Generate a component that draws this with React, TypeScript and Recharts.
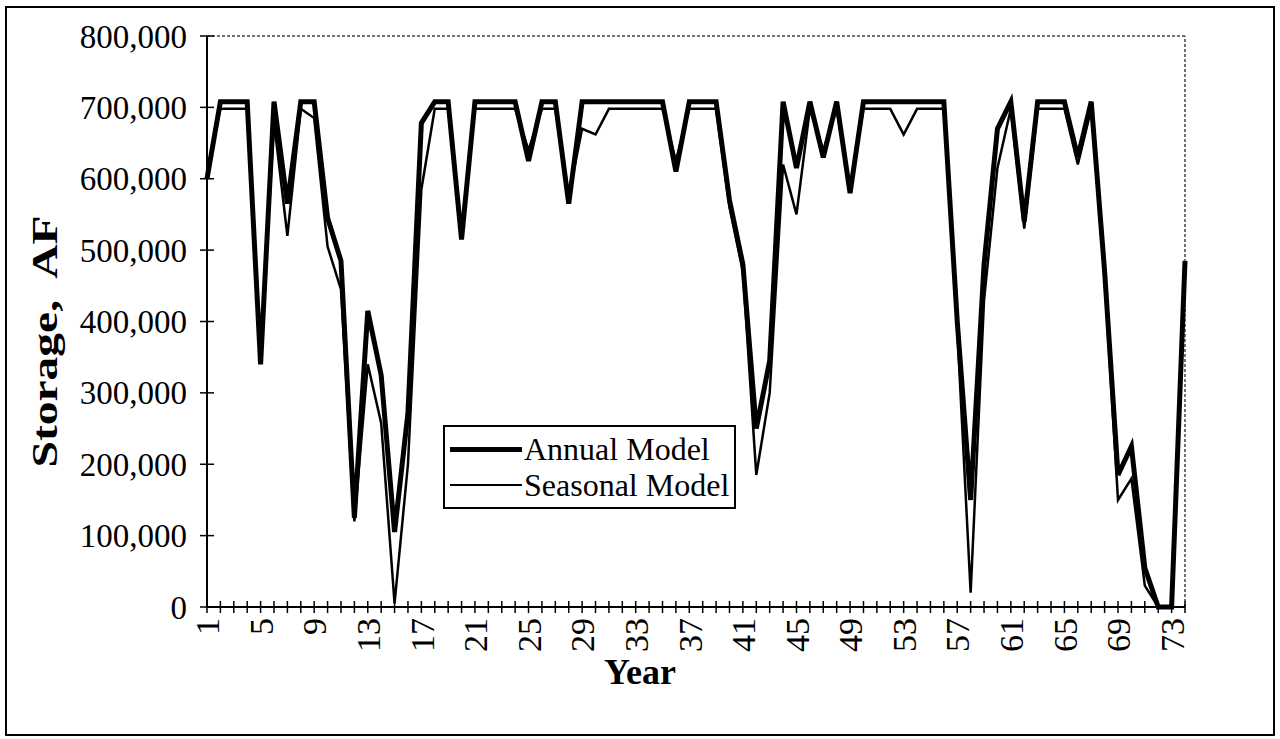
import React from "react";
import { LineChart, Line, XAxis, YAxis, Legend, ReferenceLine } from "recharts";

const FONT = '"Liberation Serif", "Times New Roman", serif';

const years = [
  1, 2, 3, 4, 5, 6, 7, 8, 9, 10, 11, 12, 13, 14, 15, 16, 17, 18, 19, 20, 21, 22, 23, 24, 25,
  26, 27, 28, 29, 30, 31, 32, 33, 34, 35, 36, 37, 38, 39, 40, 41, 42, 43, 44, 45, 46, 47, 48,
  49, 50, 51, 52, 53, 54, 55, 56, 57, 58, 59, 60, 61, 62, 63, 64, 65, 66, 67, 68, 69, 70, 71,
  72, 73, 74,
];

// storage, thousand AF
const annual = [
  600, 708, 708, 708, 340, 708, 565, 708, 708, 545, 485, 125, 415, 325, 105, 272, 678, 708, 708,
  515, 708, 708, 708, 708, 625, 708, 708, 565, 708, 708, 708, 708, 708, 708, 708, 610, 708, 708,
  708, 570, 480, 250, 345, 708, 615, 708, 630, 708, 580, 708, 708, 708, 708, 708, 708, 708, 400,
  150, 480, 670, 708, 540, 708, 708, 708, 630, 708, 470, 185, 225, 55, 0, 0, 485,
];

const seasonal = [
  610, 698, 698, 698, 350, 680, 520, 698, 685, 505, 445, 120, 340, 258, 5, 200, 585, 698, 698,
  530, 698, 698, 698, 698, 640, 698, 698, 575, 670, 662, 698, 698, 698, 698, 698, 625, 698, 698,
  698, 560, 470, 185, 300, 620, 550, 698, 640, 698, 585, 698, 698, 698, 662, 698, 698, 698, 390,
  20, 430, 615, 698, 530, 698, 698, 698, 620, 698, 460, 150, 180, 30, 0, 0, 480,
];

const xTickLabels = [1, 5, 9, 13, 17, 21, 25, 29, 33, 37, 41, 45, 49, 53, 57, 61, 65, 69, 73];
const yTicks = [0, 100000, 200000, 300000, 400000, 500000, 600000, 700000, 800000];

const data = years.map((year, i) => ({
  year,
  annual: annual[i] * 1000,
  seasonal: seasonal[i] * 1000,
}));

const XTick = (props: any) => {
  const { x, y, payload } = props;
  const show = xTickLabels.includes(payload.value);
  return (
    <g transform={`translate(${x},${y})`}>
      <line x1={0} x2={0} y1={-6} y2={6} stroke="#000" strokeWidth={1.5} />
      {show && (
        <text
          transform="rotate(-90)"
          x={-11}
          y={0}
          dy="0.36em"
          textAnchor="end"
          fontFamily={FONT}
          fontSize={34}
          fill="#000"
        >
          {payload.value}
        </text>
      )}
    </g>
  );
};

const YTick = (props: any) => {
  const { x, y, payload } = props;
  return (
    <g>
      <line x1={x - 7} x2={x + 7} y1={y} y2={y} stroke="#000" strokeWidth={1.5} />
      <text
        x={x - 20}
        y={y}
        dy="0.35em"
        textAnchor="end"
        fontFamily={FONT}
        fontSize={33}
        fill="#000"
      >
        {Number(payload.value).toLocaleString("en-US")}
      </text>
    </g>
  );
};

const LegendBox = ({ payload }: any) => (
  <div
    style={{
      border: "2px solid #000",
      background: "#fff",
      padding: "4px 5px",
      fontFamily: FONT,
      fontSize: 32,
      lineHeight: "36px",
      color: "#000",
    }}
  >
    {(payload || []).map((entry: any) => (
      <div key={entry.value} style={{ display: "flex", alignItems: "center" }}>
        <span
          style={{
            display: "inline-block",
            width: 72,
            borderTop: `${entry.payload?.strokeWidth ?? 2}px solid #000`,
            marginRight: 2,
          }}
        />
        <span>{entry.value}</span>
      </div>
    ))}
  </div>
);

const App = () => {
  return (
    <div
      style={{
        position: "absolute",
        left: 5,
        top: 6,
        width: 1266,
        height: 726,
        border: "2px solid #000",
        background: "#fff",
      }}
    >
      <LineChart
        width={1266}
        height={726}
        data={data}
        margin={{ top: 28, right: 88, bottom: 0, left: 0 }}
      >
        <XAxis
          dataKey="year"
          type="number"
          domain={[1, 74]}
          ticks={years}
          interval={0}
          tick={<XTick />}
          tickSize={0}
          tickMargin={0}
          tickLine={false}
          axisLine={{ stroke: "#000", strokeWidth: 2 }}
          height={127}
          label={(p: any) => {
            const vb = p.viewBox;
            return (
              <text
                x={vb.x + vb.width / 2 - 56}
                y={vb.y + 77}
                textAnchor="middle"
                fontFamily={FONT}
                fontSize={36}
                fontWeight="bold"
                fill="#000"
              >
                Year
              </text>
            );
          }}
        />
        <YAxis
          domain={[0, 800000]}
          ticks={yTicks}
          interval={0}
          tick={<YTick />}
          tickSize={0}
          tickMargin={0}
          tickLine={false}
          axisLine={{ stroke: "#000", strokeWidth: 2 }}
          width={200}
          label={(p: any) => {
            const vb = p.viewBox;
            const cx = 38;
            const cy = vb.y + vb.height / 2 + 20;
            return (
              <text
                x={cx}
                y={cy}
                transform={`rotate(-90, ${cx}, ${cy})`}
                textAnchor="middle"
                dominantBaseline="central"
                fontFamily={FONT}
                fontSize={35}
                fontWeight="bold"
                fill="#000"
                textLength={252}
                lengthAdjust="spacingAndGlyphs"
              >
                {"Storage,\u00A0 AF"}
              </text>
            );
          }}
        />
        <ReferenceLine y={800000} stroke="#444" strokeWidth={1.5} strokeDasharray="3 2" />
        <ReferenceLine x={74} stroke="#444" strokeWidth={1.5} strokeDasharray="3 2" />
        <Legend
          layout="horizontal"
          verticalAlign="middle"
          align="center"
          content={<LegendBox />}
          wrapperStyle={{ left: 436, top: 417, width: "auto" }}
        />
        <Line
          type="linear"
          dataKey="annual"
          name="Annual Model"
          stroke="#000"
          strokeWidth={5}
          dot={false}
          isAnimationActive={false}
        />
        <Line
          type="linear"
          dataKey="seasonal"
          name="Seasonal Model"
          stroke="#000"
          strokeWidth={2.5}
          dot={false}
          isAnimationActive={false}
        />
      </LineChart>
    </div>
  );
};

export default App;
